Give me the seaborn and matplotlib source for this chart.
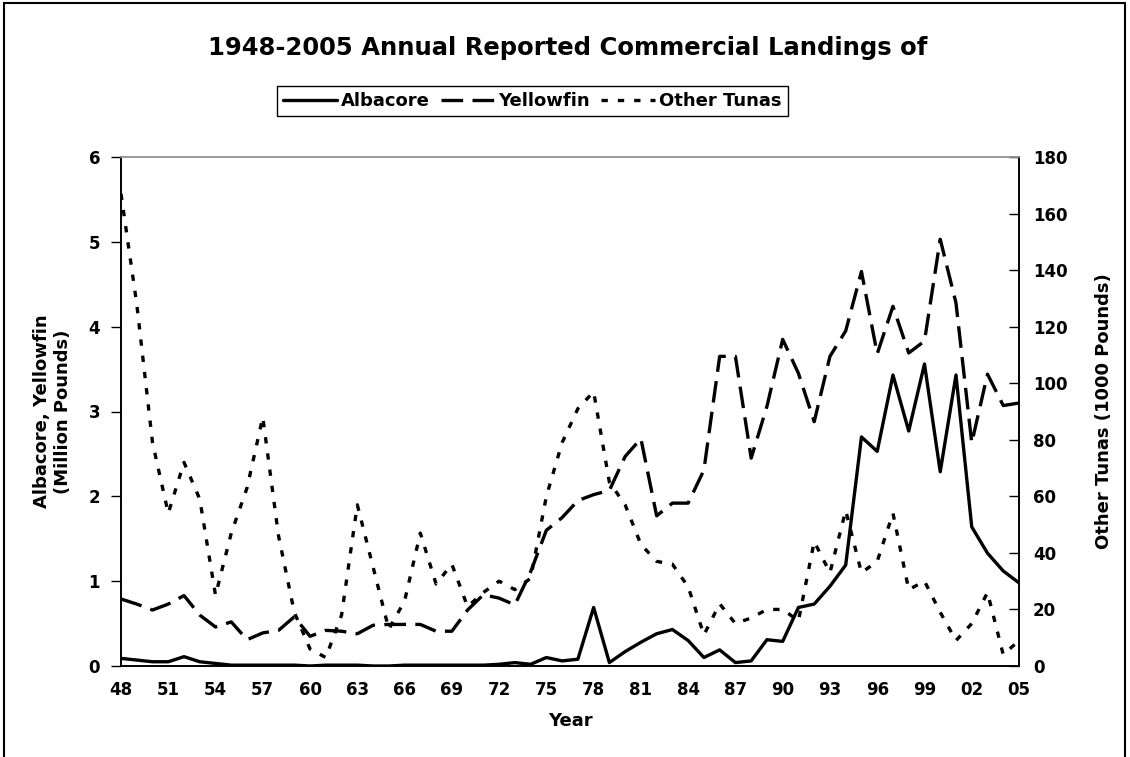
import matplotlib
matplotlib.use("Agg")
import matplotlib.pyplot as plt
import seaborn as sns
import numpy as np
from matplotlib.patches import Rectangle

years = list(range(1948, 2006))
albacore = [0.09, 0.07, 0.05, 0.05, 0.11, 0.05, 0.03, 0.01, 0.01, 0.01,
            0.01, 0.01, 0.00, 0.01, 0.01, 0.01, 0.00, 0.00, 0.01, 0.01,
            0.01, 0.01, 0.01, 0.01, 0.02, 0.04, 0.02, 0.10, 0.06, 0.08,
            0.69, 0.04, 0.17, 0.28, 0.38, 0.43, 0.30, 0.10, 0.19, 0.04,
            0.06, 0.31, 0.29, 0.69, 0.73, 0.94, 1.19, 2.70, 2.53, 3.43,
            2.77, 3.56, 2.29, 3.43, 1.64, 1.33, 1.12, 0.98]
yellowfin = [0.79, 0.73, 0.66, 0.73, 0.83, 0.60, 0.46, 0.52, 0.31, 0.39,
             0.42, 0.58, 0.35, 0.42, 0.41, 0.38, 0.48, 0.49, 0.49, 0.49,
             0.41, 0.41, 0.66, 0.84, 0.80, 0.72, 1.11, 1.60, 1.75, 1.95,
             2.02, 2.07, 2.47, 2.68, 1.77, 1.92, 1.92, 2.31, 3.65, 3.65,
             2.45, 3.06, 3.85, 3.45, 2.88, 3.65, 3.95, 4.65, 3.68, 4.24,
             3.69, 3.83, 5.03, 4.28, 2.63, 3.44, 3.07, 3.10]
other_tunas = [167, 128, 79, 54, 72, 59, 25, 47, 63, 88,
               46, 19, 6, 3, 18, 57, 35, 13, 23, 47,
               29, 36, 21, 26, 30, 27, 31, 60, 79, 91,
               97, 65, 57, 43, 37, 36, 28, 11, 22, 15,
               17, 20, 20, 16, 44, 33, 55, 33, 37, 54,
               27, 30, 19, 9, 15, 26, 4, 9]

label_years = list(range(1948, 2006, 3))
label_texts = ["48", "51", "54", "57", "60", "63", "66", "69", "72", "75",
               "78", "81", "84", "87", "90", "93", "96", "99", "02", "05"]
left_ticks = [0, 1, 2, 3, 4, 5, 6]
right_ticks = [0, 20, 40, 60, 80, 100, 120, 140, 160, 180]

series_names = ["Albacore", "Yellowfin", "Other Tunas"]

sns.set_style("white")
plt.rcParams['font.family'] = ['DejaVu Sans']
plt.rcParams['text.color'] = 'black'
plt.rcParams['axes.labelcolor'] = 'black'
plt.rcParams['xtick.color'] = 'black'
plt.rcParams['ytick.color'] = 'black'

W, H = 1130, 757
fig = plt.figure(figsize=(W / 100, H / 100), dpi=100)
x0, x1 = 121, 1019
y0, y1 = 666, 157
ax = fig.add_axes([x0 / W, 1 - y0 / H, (x1 - x0) / W, (y0 - y1) / H])
ax2 = ax.twinx()

sns.lineplot(x=years, y=albacore, ax=ax, color="black", linewidth=2.4,
             linestyle="-", legend=False)
sns.lineplot(x=years, y=yellowfin, ax=ax, color="black", linewidth=2.4,
             linestyle=(0, (6.5, 2.8)), legend=False)
sns.lineplot(x=years, y=other_tunas, ax=ax2, color="black", linewidth=2.4,
             linestyle=(0, (1.9, 3.0)), legend=False)

ax.set_xlim(1948, 2005)
ax.set_ylim(0, 6)
ax2.set_ylim(0, 180)
ax.set_yticks(left_ticks)
ax.set_yticklabels([str(t) for t in left_ticks])
ax2.set_yticks(right_ticks)
ax2.set_yticklabels([str(t) for t in right_ticks])
ax.set_xticks(label_years)
ax.set_xticklabels(label_texts)
ax.set_xticks(years, minor=True)

fs = 12
for a in (ax, ax2):
    for lab in a.get_yticklabels() + a.get_xticklabels():
        lab.set_fontweight("bold")
        lab.set_fontsize(fs)

ax.tick_params(axis="x", which="both", direction="inout", length=9, width=1,
               color="black", pad=6)
ax.tick_params(axis="y", direction="out", length=7, width=1, color="black",
               pad=8, left=True)
ax2.tick_params(axis="y", direction="in", length=7, width=1, color="black",
                pad=10, right=True)

for a in (ax, ax2):
    a.spines["left"].set_color("black")
    a.spines["right"].set_color("black")
    a.spines["bottom"].set_color("black")
    a.spines["top"].set_color("#9a9a9a")
    for s in a.spines.values():
        s.set_linewidth(1.2)
    a.grid(False)

lfs = 13
ax.set_xlabel("Year", fontsize=lfs, fontweight="bold", labelpad=10)
ax.set_ylabel("Albacore, Yellowfin\n(Million Pounds)", fontsize=lfs,
              fontweight="bold", labelpad=12)
ax2.set_ylabel("Other Tunas (1000 Pounds)", fontsize=lfs, fontweight="bold",
               labelpad=20)

fig.text(0.502, 1 - 48 / H, "1948-2005 Annual Reported Commercial Landings of",
         ha="center", va="center", fontsize=17.5, fontweight="bold")

handles = [ax.lines[0], ax.lines[1], ax2.lines[0]]
leg = fig.legend(handles, series_names, loc="center",
                 bbox_to_anchor=(0.471, 1 - 101 / H), ncol=3, frameon=True,
                 fancybox=False, edgecolor="black", framealpha=1,
                 handlelength=3.0, handletextpad=0.2, columnspacing=0.6,
                 borderpad=0.35, prop={"weight": "bold", "size": 13})
leg.get_frame().set_linewidth(1.0)

fig.patches.append(Rectangle((4 / W, -0.05), (1125 - 4) / W, 1.05 - 3 / H,
                             transform=fig.transFigure, fill=False,
                             edgecolor="black", linewidth=1.5))

fig.savefig("out.png", dpi=100)
